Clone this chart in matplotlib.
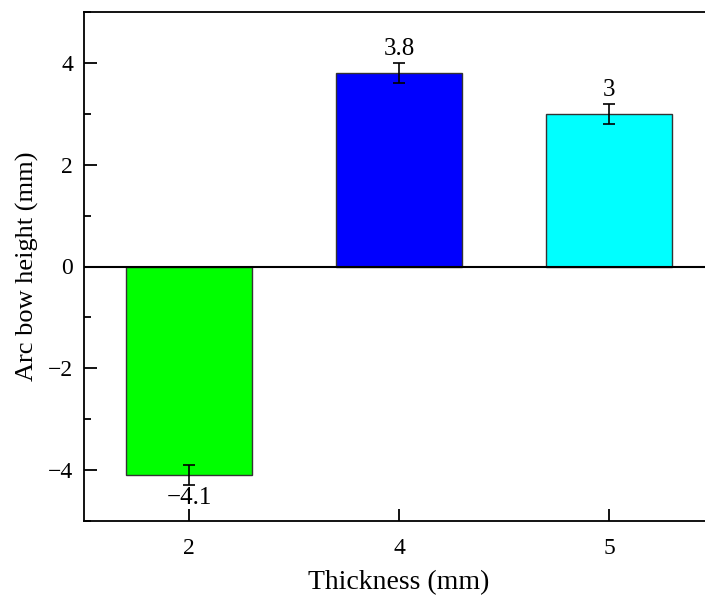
import matplotlib

matplotlib.use("Agg")
import matplotlib.pyplot as plt
from matplotlib.ticker import MultipleLocator

# arc bow height measured for each plate thickness
thickness = ["2", "4", "5"]
bow_height = [-4.1, 3.8, 3.0]
bow_err = [0.2, 0.2, 0.2]
bar_colors = ["#00ff00", "#0000ff", "#00ffff"]
value_labels = ["\u22124.1", "3.8", "3"]

plt.rcParams["font.family"] = ["Liberation Serif", "DejaVu Serif"]

fig = plt.figure(figsize=(7.05, 6.01), dpi=100)
ax = fig.add_axes([84 / 705, 80 / 601, 630 / 705, 509 / 601])

x = list(range(len(thickness)))
ax.bar(x, bow_height, width=0.6, color=bar_colors, edgecolor="#333333",
       linewidth=1.0, zorder=2)
ax.errorbar(x, bow_height, yerr=bow_err, fmt="none", ecolor="black",
            elinewidth=1.2, capsize=4.5, capthick=1.2, zorder=3)
ax.axhline(0, color="black", linewidth=1.5, zorder=4)

for xi, h, e, lab in zip(x, bow_height, bow_err, value_labels):
    if h >= 0:
        ax.text(xi, h + e + 0.05, lab, ha="center", va="bottom", fontsize=18)
    else:
        ax.text(xi, h - e - 0.03, lab, ha="center", va="top", fontsize=18)

ax.set_xlim(-0.5, 2.5)
ax.set_ylim(-5, 5)
ax.set_xticks(x)
ax.set_xticklabels(thickness)
ax.set_yticks([-4, -2, 0, 2, 4])
ax.set_yticklabels(["\u22124", "\u22122", "0", "2", "4"])
ax.yaxis.set_minor_locator(MultipleLocator(1))
ax.tick_params(axis="both", which="major", direction="in", length=9,
               width=1.3, labelsize=17, pad=8)
ax.tick_params(axis="x", which="major", pad=12)
ax.tick_params(axis="y", which="minor", direction="in", length=5, width=1.3)
ax.spines["right"].set_visible(False)
for side in ["left", "bottom", "top"]:
    ax.spines[side].set_linewidth(1.3)

ax.set_xlabel("Thickness (mm)", fontsize=20, labelpad=8)
ax.set_ylabel("Arc bow height (mm)", fontsize=19, labelpad=6)

fig.savefig("out.png", dpi=100)
